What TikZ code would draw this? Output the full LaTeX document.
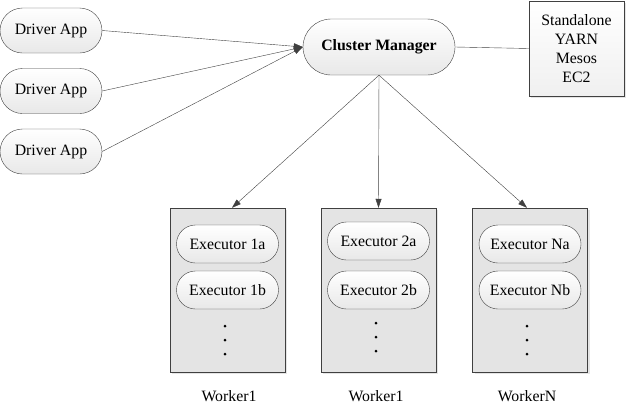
\documentclass[tikz,border=0pt]{standalone}
\usepackage{fontspec}
\setmainfont{Liberation Serif}
\usetikzlibrary{shapes.misc,shadows,arrows.meta}
\definecolor{edge}{HTML}{404040}
\definecolor{workfill}{HTML}{E4E4E4}
\tikzset{
  pill/.style={rounded rectangle, draw=edge, top color=white, bottom color=gray!18,
    minimum width=102pt, minimum height=45pt, inner sep=0pt, font=\fontsize{15.8}{19}\selectfont},
  workerbox/.style={rectangle, draw=edge, fill=workfill, minimum width=115pt, minimum height=164pt,
    drop shadow={shadow xshift=2pt, shadow yshift=-2pt, fill=gray!40}},
  arr/.style={draw=edge, -{Triangle[length=9pt,width=6pt]}},
  lbl/.style={font=\fontsize{15.8}{19}\selectfont}
}
\begin{document}
\begin{tikzpicture}[x=1pt,y=-1pt]
    \useasboundingbox (0,0) rectangle (627,408);
    % drivers
    \node(d1) at (51, 30.5) [pill] {Driver App};
    \node(d2) at (51, 91)   [pill] {Driver App};
    \node(d3) at (51,151.5) [pill] {Driver App};
    % manager and back ends
    \node(cm) at (379,47) [pill, minimum width=152pt, minimum height=56pt, font=\fontsize{15.8}{19}\selectfont\bfseries] {Cluster Manager};
    \node(rm) at (576.5,48.5) [rectangle, draw=edge, top color=white, bottom color=gray!12,
        minimum width=95pt, minimum height=95pt, align=center, lbl,
        drop shadow={shadow xshift=2pt, shadow yshift=-2pt, fill=gray!40}]
        {Standalone\\YARN\\Mesos\\EC2};
    % workers
    \node(w1) at (227.5,290) [workerbox] {};
    \node(w2) at (378.5,290) [workerbox] {};
    \node(wn) at (530,290)   [workerbox] {};
    \node(e1a) at (227.5,244) [pill, minimum height=38pt] {Executor 1a};
    \node(e1b) at (227.5,290) [pill, minimum height=38pt] {Executor 1b};
    \node(e2a) at (378.5,241) [pill, minimum height=38pt] {Executor 2a};
    \node(e2b) at (378.5,290) [pill, minimum height=38pt] {Executor 2b};
    \node(ena) at (530,244)   [pill, minimum height=38pt] {Executor Na};
    \node(enb) at (530,290)   [pill, minimum height=38pt] {Executor Nb};
    \foreach \x/\y in {225/326, 376/323, 527/326} {
        \foreach \d in {0,14,28}
            \fill (\x,\y+\d) circle (1.5pt);
    }
    \node(l1) at (229,396) [lbl] {Worker1};
    \node(l2) at (376,396) [lbl] {Worker1};
    \node(ln) at (527,396) [lbl] {WorkerN};
    % connectors
    \draw[arr] (d1.east) -- (cm.west);
    \draw[arr] (d2.east) -- (cm.west);
    \draw[arr] (d3.east) -- (cm.west);
    \draw[draw=edge] (cm.east) -- (rm.west);
    \draw[arr] (cm.south) -- (w1.north -| 232,0);
    \draw[arr] (cm.south) -- (w2.north);
    \draw[arr] (cm.south) -- (wn.north -| 527,0);
\end{tikzpicture}
\end{document}
